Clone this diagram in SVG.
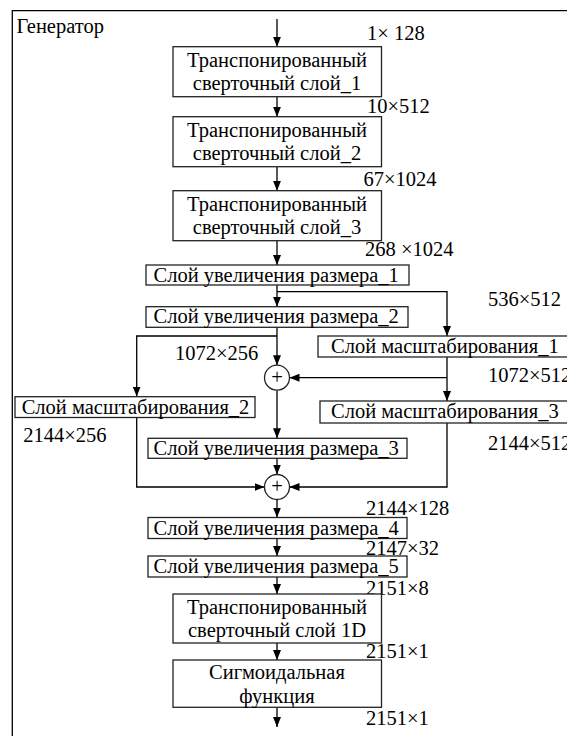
<svg xmlns="http://www.w3.org/2000/svg" width="567" height="736" viewBox="0 0 567 736" font-family="'Liberation Serif', 'Times New Roman', serif" font-size="20.5">
<defs>
<style>
text{font-family:'Liberation Serif','Times New Roman',serif;font-size:20.5px;fill:#000}
.c{text-anchor:middle}
.box{fill:#fff;stroke:#222;stroke-width:1.3}
.ln{fill:none;stroke:#000;stroke-width:1.3}
.ar{fill:none;stroke:#000;stroke-width:1.3;marker-end:url(#ah)}
</style>
<marker id="ah" markerWidth="10" markerHeight="8" refX="10" refY="4" orient="auto" markerUnits="userSpaceOnUse">
<path d="M0,0 L10,4 L0,8 Z" fill="#000"/>
</marker>
</defs>
<rect width="567" height="736" fill="#fff"/>
<g id="frame">
<path class="ln" d="M12.3,736 V10.7 H567"/>
<text x="16.5" y="33">Генератор</text>
</g>
<g id="connectors">
<path class="ar" d="M277,19 V46.7"/>
<path class="ar" d="M277,96.7 V116.7"/>
<path class="ar" d="M277,166.7 V190.7"/>
<path class="ar" d="M277,240.7 V265"/>
<path class="ar" d="M277,285 V306.7"/>
<path class="ar" d="M277,291.7 H447 V336"/>
<path class="ar" d="M277,327.3 V365.2"/>
<path class="ar" d="M277,336 H136.7 V396.5"/>
<path class="ar" d="M447,357 V401"/>
<path class="ar" d="M447,377.7 H289.5"/>
<path class="ar" d="M277,390.2 V438.3"/>
<path class="ar" d="M277,458.3 V474.5"/>
<path class="ar" d="M136.7,417.5 V487 H264.5"/>
<path class="ar" d="M447,423 V487 H289.5"/>
<path class="ar" d="M277,499.5 V517.5"/>
<path class="ar" d="M277,538.5 V556"/>
<path class="ar" d="M277,577 V594"/>
<path class="ar" d="M277,643 V660"/>
<path class="ar" d="M277,707.3 V727"/>
</g>
<g id="labels">
<text x="367" y="40">1× 128</text>
<text x="367" y="113">10×512</text>
<text x="363.5" y="186">67×1024</text>
<text x="365" y="256">268 ×1024</text>
<text x="488" y="306">536×512</text>
<text x="175" y="359.5">1072×256</text>
<text x="488" y="382">1072×512</text>
<text x="23.3" y="441.5">2144×256</text>
<text x="488" y="449.5">2144×512</text>
<text x="366" y="515">2144×128</text>
<text x="366" y="555">2147×32</text>
<text x="366" y="595">2151×8</text>
<text x="366" y="658">2151×1</text>
<text x="366" y="725">2151×1</text>
</g>
<g id="tconv1">
<rect class="box" x="173" y="46.7" width="208.5" height="50"/>
<text class="c" x="277" y="67">Транспонированный</text>
<text class="c" x="277" y="90">сверточный слой_1</text>
</g>
<g id="tconv2">
<rect class="box" x="173" y="116.7" width="208.5" height="50"/>
<text class="c" x="277" y="137">Транспонированный</text>
<text class="c" x="277" y="160">сверточный слой_2</text>
</g>
<g id="tconv3">
<rect class="box" x="173" y="190.7" width="208.5" height="50"/>
<text class="c" x="277" y="211">Транспонированный</text>
<text class="c" x="277" y="234">сверточный слой_3</text>
</g>
<g id="up1">
<rect class="box" x="146" y="265" width="263" height="20"/>
<text x="153.5" y="281.7">Слой увеличения размера_1</text>
</g>
<g id="up2">
<rect class="box" x="146" y="306.7" width="262" height="20.6"/>
<text x="153.5" y="323.4">Слой увеличения размера_2</text>
</g>
<g id="scale1">
<rect class="box" x="318" y="336" width="252" height="21"/>
<text x="331" y="353">Слой масштабирования_1</text>
</g>
<g id="sum1">
<circle class="box" cx="277" cy="377.7" r="12.5"/>
<text class="c" x="277" y="383.5">+</text>
</g>
<g id="scale2">
<rect class="box" x="15" y="396.7" width="240" height="20.8"/>
<text x="21.7" y="413.5">Слой масштабирования_2</text>
</g>
<g id="scale3">
<rect class="box" x="320" y="401" width="250" height="22"/>
<text x="331" y="417.7">Слой масштабирования_3</text>
</g>
<g id="up3">
<rect class="box" x="148" y="438.3" width="259" height="20"/>
<text x="153.5" y="455">Слой увеличения размера_3</text>
</g>
<g id="sum2">
<circle class="box" cx="277" cy="487" r="12.5"/>
<text class="c" x="277" y="492.8">+</text>
</g>
<g id="up4">
<rect class="box" x="148" y="517.5" width="259" height="21"/>
<text x="153.5" y="534.5">Слой увеличения размера_4</text>
</g>
<g id="up5">
<rect class="box" x="148" y="556" width="259" height="21"/>
<text x="153.5" y="572.7">Слой увеличения размера_5</text>
</g>
<g id="tconv1d">
<rect class="box" x="173" y="594" width="208.5" height="49"/>
<text class="c" x="277" y="614">Транспонированный</text>
<text class="c" x="277" y="637">сверточный слой 1D</text>
</g>
<g id="sigmoid">
<rect class="box" x="173" y="660" width="208.5" height="47.3"/>
<text class="c" x="277" y="679">Сигмоидальная</text>
<text class="c" x="277" y="703">функция</text>
</g>
</svg>
